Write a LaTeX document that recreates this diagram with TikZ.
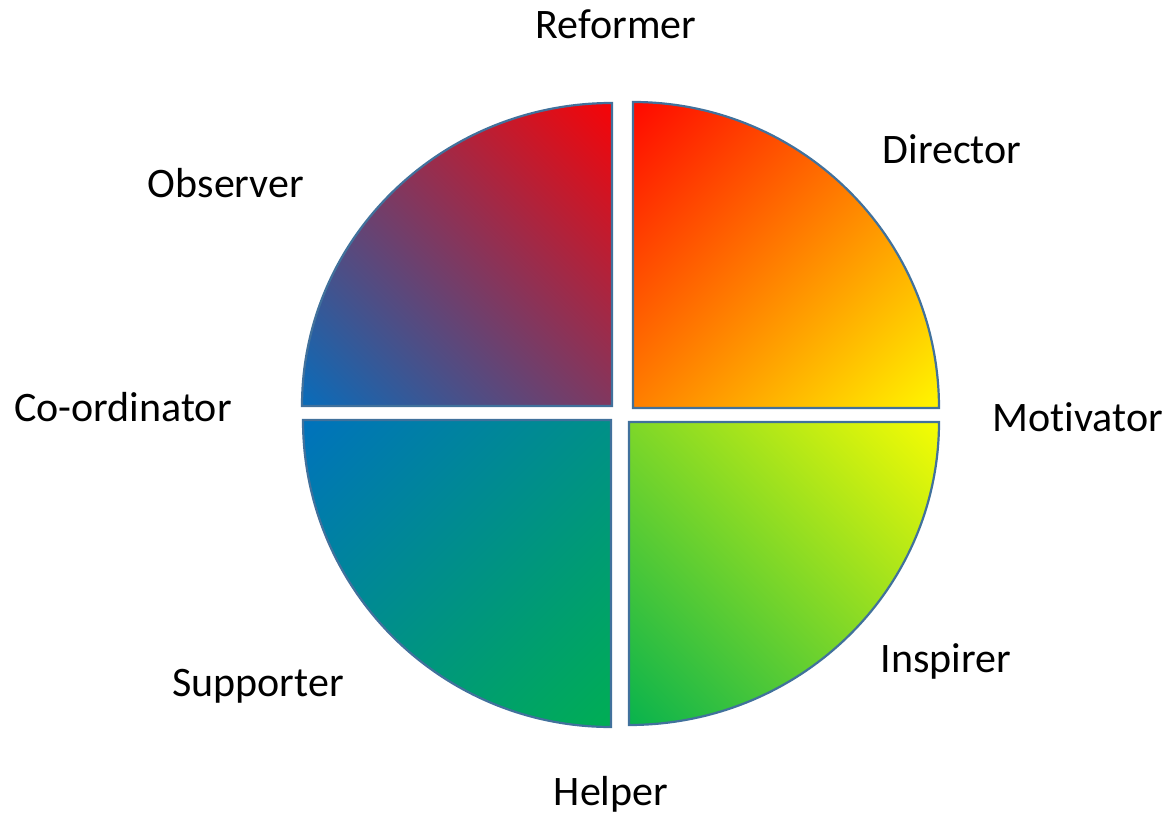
\documentclass[tikz,border=0pt]{standalone}
\usepackage{fontspec}
\setmainfont[Ligatures=NoCommon]{Carlito}
\usetikzlibrary{positioning}
\definecolor{edgeblue}{HTML}{41719C}
\definecolor{offred}{HTML}{FF0000}
\definecolor{offyellow}{HTML}{FFFF00}
\definecolor{offblue}{HTML}{0070C0}
\definecolor{offgreen}{HTML}{00B050}
\colorlet{qhigh}{offred}
\colorlet{qlow}{offyellow}
% corner to corner fade
\pgfdeclareverticalshading[qhigh,qlow]{quarterfade}{100bp}{color(0bp)=(qlow); color(12bp)=(qlow); color(88bp)=(qhigh); color(100bp)=(qhigh)}

\begin{document}
\begin{tikzpicture}[x=1pt, y=1pt,
    quarter/.style 2 args={draw=edgeblue, line width=2.2pt, line join=miter,
      /utils/exec={\colorlet{qhigh}{#1}\colorlet{qlow}{#2}}, shading=quarterfade},
    role/.style={anchor=base, inner sep=0pt, font=\fontsize{42}{50}\selectfont}]
  \useasboundingbox (0,0) rectangle (1171,819);
  % four quarters of the wheel
  \shadedraw[quarter={offred}{offyellow}, shading angle=45]
    (633,411) -- ++(0,306) arc[start angle=90, end angle=0, x radius=306, y radius=306] -- cycle;
  \shadedraw[quarter={offred}{offblue}, shading angle=-45]
    (612,413) -- ++(0,303) arc[start angle=90, end angle=180, x radius=310, y radius=303] -- cycle;
  \shadedraw[quarter={offblue}{offgreen}, shading angle=45]
    (611,399) -- ++(-308,0) arc[start angle=180, end angle=270, x radius=308, y radius=307] -- cycle;
  \shadedraw[quarter={offyellow}{offgreen}, shading angle=-45]
    (629,397) -- ++(310,0) arc[start angle=0, end angle=-90, x radius=310, y radius=303] -- cycle;
  % roles round the wheel
  \node[role] (reformer) at (616,780) {Reformer};
  \node[role] (director) at (952,655) {Director};
  \node[role] (observer) at (226,621) {Observer};
  \node[role] (coordinator) at (123,397) {Co-ordinator};
  \node[role] (motivator) at (1078,387) {Motivator};
  \node[role] (supporter) at (258,122) {Supporter};
  \node[role] (inspirer) at (946,146) {Inspirer};
  \node[role] (helper) at (611,13) {Helper};
\end{tikzpicture}
\end{document}
